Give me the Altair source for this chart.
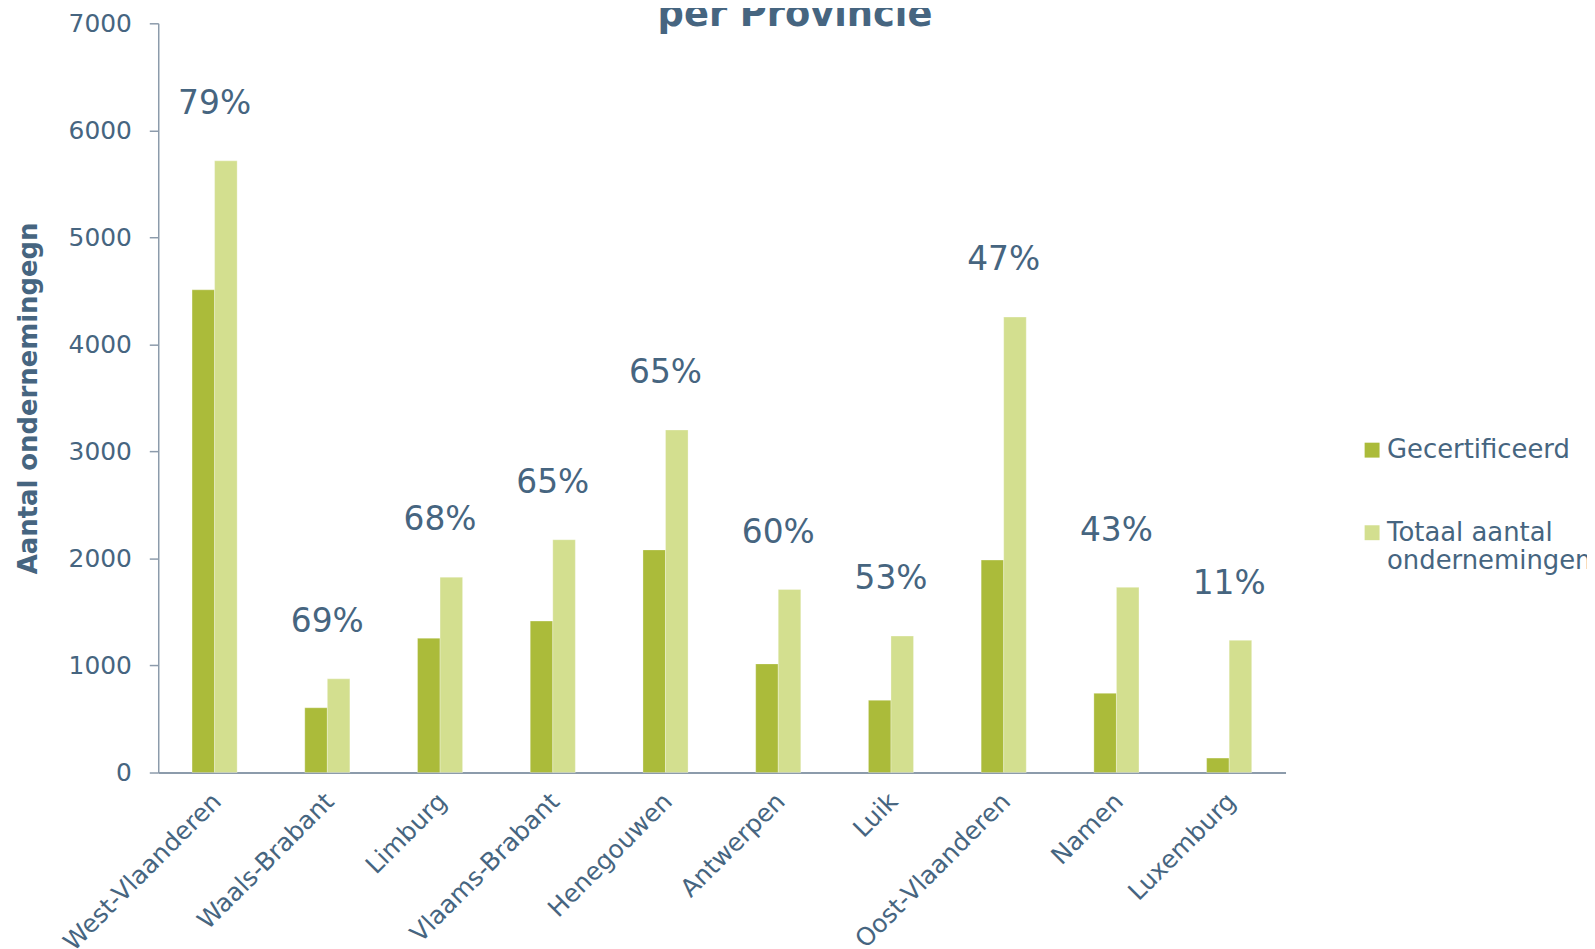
import altair as alt
import pandas as pd

provinces = ["West-Vlaanderen", "Waals-Brabant", "Limburg", "Vlaams-Brabant", "Henegouwen",
             "Antwerpen", "Luik", "Oost-Vlaanderen", "Namen", "Luxemburg"]
gecertificeerd = [4510, 605, 1255, 1415, 2080, 1015, 675, 1985, 740, 135]
totaal = [5715, 875, 1825, 2175, 3200, 1710, 1275, 4255, 1730, 1235]
percent_labels = ["79%", "69%", "68%", "65%", "65%", "60%", "53%", "47%", "43%", "11%"]
series = ["Gecertificeerd", "Totaal aantal ondernemingen"]
colors = ["#abbb3a", "#d3df8f"]
title_text = ["per Provincie"]

TEXT = "#466580"
FONT = "DejaVu Sans"

rows = []
for i, p in enumerate(provinces):
    rows.append({"provincie": p, "reeks": series[0], "waarde": gecertificeerd[i], "o": 0})
    rows.append({"provincie": p, "reeks": series[1], "waarde": totaal[i], "o": 1})
df = pd.DataFrame(rows)
lab = pd.DataFrame({"provincie": provinces, "totaal": totaal, "label": percent_labels})

xscale = alt.Scale(domain=provinces, paddingInner=0.6, paddingOuter=0.3)
yscale = alt.Scale(domain=[0, 7000])

bars = alt.Chart(df).mark_bar(stroke="white", strokeWidth=0.5, strokeOpacity=0.6).encode(
    x=alt.X("provincie:N", scale=xscale, sort=provinces,
            axis=alt.Axis(title=None, labelAngle=-45, labelFontSize=25, labelPadding=16,
                          labelOffset=-6,
                          labelLimit=400, ticks=False, domainColor="#8c9bab", domainWidth=2,
                          labelColor=TEXT, labelFont=FONT)),
    xOffset=alt.XOffset("o:O"),
    y=alt.Y("waarde:Q", scale=yscale,
            axis=alt.Axis(title="Aantal ondernemingegn", values=list(range(0, 7001, 1000)),
                          format="d",
                          grid=False, tickSize=9, tickColor="#8c9bab", domainColor="#8c9bab",
                          domainWidth=1.5, tickWidth=1.5,
                          labelFontSize=25, labelPadding=18, labelColor=TEXT, labelFont=FONT,
                          titleFontSize=26, titleFont=FONT, titleColor=TEXT, titleFontWeight="bold",
                          titlePadding=27)),
    color=alt.Color("reeks:N", scale=alt.Scale(domain=series, range=colors),
                    legend=alt.Legend(title=None, orient="none", legendX=1207, legendY=416,
                                      symbolType="square", symbolSize=225, symbolStrokeWidth=0,
                                      labelFontSize=26, labelFont=FONT, labelColor=TEXT,
                                      rowPadding=57, labelOffset=2, padding=0,
                                      labelLimit=400,
                                      labelExpr="datum.label == 'Totaal aantal ondernemingen' ? ['Totaal aantal', 'ondernemingen'] : datum.label")),
)

texts = alt.Chart(lab).mark_text(fontSize=33, font=FONT, color=TEXT, baseline="middle", dy=-57).encode(
    x=alt.X("provincie:N", scale=xscale, sort=provinces),
    y=alt.Y("totaal:Q", scale=yscale),
    text="label:N",
)

title = alt.Chart(pd.DataFrame({"t": title_text})).mark_text(
    fontSize=37, font=FONT, fontWeight="bold", color=TEXT, align="center", baseline="alphabetic"
).encode(x=alt.value(640), y=alt.value(3), text="t:N")

chart = alt.layer(bars, texts, title).properties(
    width=1133, height=753,
    autosize=alt.AutoSizeParams(type="none"),
    padding={"left": 151, "top": 13, "right": 303, "bottom": 175},
).configure_view(stroke=None)

chart.save("out.html", embed_options={"renderer": "svg", "actions": False})
